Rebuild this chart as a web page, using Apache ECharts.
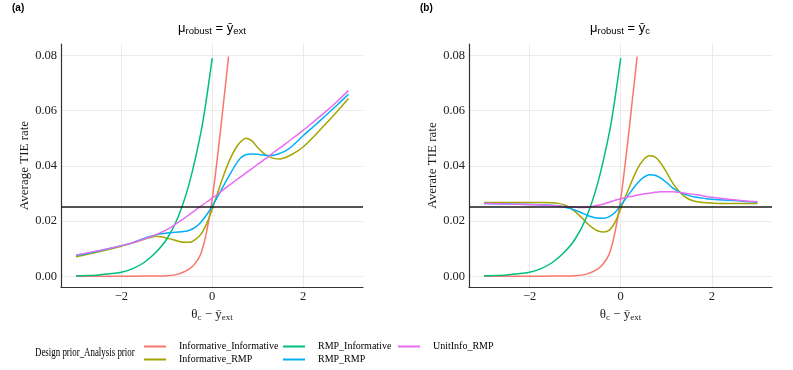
<!DOCTYPE html>
<html lang="en">
<head>
<meta charset="UTF-8">
<title>Average TIE rate</title>
<script src="https://cdn.jsdelivr.net/npm/echarts@6/dist/echarts.min.js"></script>
<style>
  html, body { margin: 0; padding: 0; background: #fff; }
  #main { width: 793px; height: 370px; }
</style>
</head>
<body>
<div id="main"></div>
<script>
// ---- data ----
var seriesNames = ['Informative_Informative', 'Informative_RMP', 'RMP_Informative', 'RMP_RMP', 'UnitInfo_RMP'];
var seriesColors = ['#F8766D', '#A3A500', '#00BF7D', '#00B0F6', '#E76BF3'];

var xTicks = [-2, 0, 2];
var yTicks = [0, 0.02, 0.04, 0.06, 0.08];
var refLevel = 0.025;

// Informative_Informative (same in both panels)
var xInfoInfo = [-3, -2.5, -2, -1.5, -1.25, -1, -0.75, -0.5, -0.375, -0.25, -0.125, 0, 0.125, 0.25, 0.36];
var yInfoInfo = [0, 0, 0, 0.0001, 0.0001, 0.0002, 0.0008, 0.0027, 0.0047, 0.0082, 0.0160, 0.0280, 0.0445, 0.0630, 0.0795];

// RMP_Informative (same in both panels)
var xRmpInfo = [-3, -2.75, -2.5, -2.25, -2, -1.75, -1.5, -1.25, -1, -0.75, -0.5, -0.25, -0.125, 0];
var yRmpInfo = [0.0002, 0.0003, 0.0005, 0.0009, 0.0015, 0.0028, 0.0050, 0.0085, 0.0135, 0.0215, 0.0340, 0.0520, 0.0645, 0.0790];

// shared x grid for the RMP analysis-prior curves
var xGrid = [-3, -2.5, -2, -1.75, -1.5, -1.375, -1.25, -1.125, -1, -0.875, -0.75, -0.625, -0.5, -0.375, -0.25, -0.125, 0,
             0.125, 0.25, 0.375, 0.5, 0.625, 0.75, 0.875, 1, 1.125, 1.25, 1.375, 1.5, 1.625, 1.75, 1.875, 2,
             2.25, 2.5, 2.75, 3];

// panel (a): mu_robust = ybar_ext
var aInfoRmp = [0.0071, 0.0089, 0.0109, 0.0121, 0.0134, 0.0140, 0.0145, 0.0143, 0.0138, 0.0133, 0.0127, 0.0123, 0.0123,
                0.0133, 0.0152, 0.0190, 0.0243, 0.0305, 0.0365, 0.0418, 0.0459, 0.0487, 0.0500, 0.0490, 0.0466,
                0.0446, 0.0433, 0.0426, 0.0425, 0.0431, 0.0441, 0.0453, 0.0468, 0.0508, 0.0552, 0.0597, 0.0644];
var aRmpRmp = [0.0075, 0.0092, 0.0111, 0.0122, 0.0137, 0.0144, 0.0150, 0.0154, 0.0157, 0.0159, 0.0160, 0.0162, 0.0167,
               0.0177, 0.0196, 0.0222, 0.0254, 0.0290, 0.0328, 0.0365, 0.0400, 0.0428, 0.0441, 0.0443, 0.0442,
               0.0439, 0.0437, 0.0439, 0.0446, 0.0455, 0.0470, 0.0489, 0.0509, 0.0545, 0.0582, 0.0620, 0.0659];
var aUnitRmp = [0.0077, 0.0093, 0.0111, 0.0122, 0.0135, 0.0142, 0.0150, 0.0159, 0.0169, 0.0181, 0.0195, 0.0209, 0.0224,
                0.0239, 0.0254, 0.0269, 0.0283, 0.0298, 0.0314, 0.0330, 0.0345, 0.0360, 0.0375, 0.0390, 0.0405,
                0.0420, 0.0435, 0.0451, 0.0466, 0.0481, 0.0497, 0.0512, 0.0528, 0.0562, 0.0596, 0.0633, 0.0672];

// panel (b): mu_robust = ybar_c
var bInfoRmp = [0.0267, 0.0267, 0.0267, 0.0267, 0.0266, 0.0264, 0.0259, 0.0250, 0.0234, 0.0215, 0.0194, 0.0176, 0.0164,
                0.0160, 0.0167, 0.0195, 0.0245, 0.0297, 0.0347, 0.0392, 0.0422, 0.0436, 0.0432, 0.0410, 0.0378,
                0.0342, 0.0313, 0.0292, 0.0279, 0.0272, 0.0268, 0.0266, 0.0265, 0.0264, 0.0264, 0.0264, 0.0264];
var bRmpRmp = [0.0264, 0.0262, 0.0260, 0.0259, 0.0257, 0.0255, 0.0251, 0.0246, 0.0239, 0.0231, 0.0222, 0.0215, 0.0211,
               0.0210, 0.0216, 0.0231, 0.0257, 0.0285, 0.0313, 0.0339, 0.0358, 0.0368, 0.0366, 0.0356, 0.0340,
               0.0322, 0.0308, 0.0299, 0.0292, 0.0287, 0.0284, 0.0281, 0.0279, 0.0276, 0.0274, 0.0271, 0.0268];
var bUnitRmp = [0.0264, 0.0262, 0.0260, 0.0258, 0.0256, 0.0255, 0.0253, 0.0252, 0.0250, 0.0249, 0.0250, 0.0253, 0.0257,
                0.0262, 0.0268, 0.0275, 0.0281, 0.0286, 0.0290, 0.0294, 0.0298, 0.0301, 0.0304, 0.0306, 0.0306,
                0.0306, 0.0304, 0.0302, 0.0299, 0.0296, 0.0293, 0.0289, 0.0286, 0.0281, 0.0277, 0.0273, 0.0270];

// ---- chart ----
var myChart = echarts.init(document.getElementById('main'));

var serif = "'Liberation Serif', 'Times New Roman', serif";
var sans = "'Liberation Sans', Arial, sans-serif";

function pairs(xs, ys) {
    var out = [];
    for (var i = 0; i < xs.length; i++) out.push([xs[i], ys[i]]);
    return out;
}

function minus(v) {
    return v < 0 ? '\u2212' + Math.abs(v) : String(v);
}

function xAxisFor(idx) {
    return {
        gridIndex: idx,
        type: 'value',
        min: -3.33,
        max: 3.32,
        name: '{m|\u03b8}{s|c}{m| \u2212 \u0233}{s|ext}',
        nameLocation: 'middle',
        nameGap: 10,
        nameTextStyle: {
            rich: {
                m: { fontFamily: serif, fontSize: 13, color: '#1a1a1a', lineHeight: 15 },
                s: { fontFamily: serif, fontSize: 9, color: '#1a1a1a', lineHeight: 9, verticalAlign: 'bottom' }
            }
        },
        axisLine: { show: true, onZero: false, lineStyle: { color: '#333', width: 1.2 } },
        axisTick: { show: false, customValues: xTicks },
        axisLabel: {
            customValues: xTicks,
            formatter: minus,
            fontFamily: serif, fontSize: 12.5, color: '#222', margin: 3
        },
        splitLine: { show: true, lineStyle: { color: '#ebebeb', width: 1 } }
    };
}

function yAxisFor(idx, label) {
    return {
        gridIndex: idx,
        type: 'value',
        min: -0.00387,
        max: 0.08409,
        name: label,
        nameLocation: 'middle',
        nameGap: 29,
        nameTextStyle: { fontFamily: serif, fontSize: 13, color: '#1a1a1a' },
        axisLine: { show: true, onZero: false, lineStyle: { color: '#333', width: 1.2 } },
        axisTick: { show: false, customValues: yTicks },
        axisLabel: {
            customValues: yTicks,
            formatter: function (v) { return v.toFixed(2); },
            fontFamily: serif, fontSize: 12.5, color: '#222', margin: 4
        },
        splitLine: { show: true, lineStyle: { color: '#ebebeb', width: 1 } }
    };
}

function line(name, idx, data) {
    var c = seriesColors[seriesNames.indexOf(name)];
    return {
        name: name,
        type: 'line',
        xAxisIndex: idx,
        yAxisIndex: idx,
        data: data,
        showSymbol: false,
        symbol: 'none',
        smooth: 0.3,
        lineStyle: { color: c, width: 1.5 },
        itemStyle: { color: c },
        z: 3
    };
}

// horizontal 0.025 reference line, hung on a real series of the panel
// (precision must be raised, the default of 2 rounds 0.025 to 0.03)
function withRefLine(s) {
    s.markLine = {
        silent: true,
        symbol: 'none',
        precision: 4,
        animation: false,
        label: { show: false },
        lineStyle: { color: '#1a1a1a', width: 1.6, type: 'solid' },
        data: [{ yAxis: refLevel }]
    };
    return s;
}

var legendCommon = {
    orient: 'vertical',
    top: 340,
    padding: 0,
    itemGap: 0,
    icon: 'rect',
    itemWidth: 22,
    itemHeight: 2,
    selectedMode: false,
    textStyle: { fontFamily: serif, fontSize: 10, color: '#000', lineHeight: 13, padding: [0, 0, 0, 8] }
};

function subTitle(x, text2) {
    return {
        type: 'text',
        x: x,
        y: 28,
        style: {
            text: '{m|\u03bc}{s|robust}{m| = \u0233}{s|' + text2 + '}',
            align: 'center',
            verticalAlign: 'middle',
            rich: {
                m: { fontFamily: sans, fontSize: 13, fill: '#000', lineHeight: 16 },
                s: { fontFamily: sans, fontSize: 9.5, fill: '#000', lineHeight: 10, verticalAlign: 'bottom' }
            }
        }
    };
}

myChart.setOption({
    backgroundColor: '#ffffff',
    animation: false,
    grid: [
        { left: 61, right: 430, top: 44, bottom: 83 },
        { left: 469, right: 21, top: 44, bottom: 83 }
    ],
    xAxis: [xAxisFor(0), xAxisFor(1)],
    yAxis: [yAxisFor(0, 'Average TIE rate'), yAxisFor(1, 'Averate TIE rate')],
    legend: [
        Object.assign({ left: 144, data: [seriesNames[0], seriesNames[1]] }, legendCommon),
        Object.assign({ left: 283, data: [seriesNames[2], seriesNames[3]] }, legendCommon),
        Object.assign({ left: 398, data: [seriesNames[4]] }, legendCommon)
    ],
    graphic: [
        { type: 'text', x: 12, y: 8, style: { text: '(a)', fontFamily: sans, fontSize: 10, fontWeight: 'bold', fill: '#000', verticalAlign: 'middle' } },
        { type: 'text', x: 420, y: 8, style: { text: '(b)', fontFamily: sans, fontSize: 10, fontWeight: 'bold', fill: '#000', verticalAlign: 'middle' } },
        subTitle(212, 'ext'),
        subTitle(620, 'c'),
        { type: 'text', x: 35, y: 353, scaleX: 0.74,
          style: { text: 'Design prior_Analysis prior', fontFamily: serif, fontSize: 12, fill: '#000', verticalAlign: 'middle' } }
    ],
    series: [
        line('Informative_Informative', 0, pairs(xInfoInfo, yInfoInfo)),
        line('Informative_RMP', 0, pairs(xGrid, aInfoRmp)),
        line('RMP_Informative', 0, pairs(xRmpInfo, yRmpInfo)),
        line('RMP_RMP', 0, pairs(xGrid, aRmpRmp)),
        withRefLine(line('UnitInfo_RMP', 0, pairs(xGrid, aUnitRmp))),
        line('Informative_Informative', 1, pairs(xInfoInfo, yInfoInfo)),
        line('Informative_RMP', 1, pairs(xGrid, bInfoRmp)),
        line('RMP_Informative', 1, pairs(xRmpInfo, yRmpInfo)),
        line('RMP_RMP', 1, pairs(xGrid, bRmpRmp)),
        withRefLine(line('UnitInfo_RMP', 1, pairs(xGrid, bUnitRmp)))
    ]
});

window.addEventListener('resize', function () {
    myChart.resize();
});
</script>
</body>
</html>
